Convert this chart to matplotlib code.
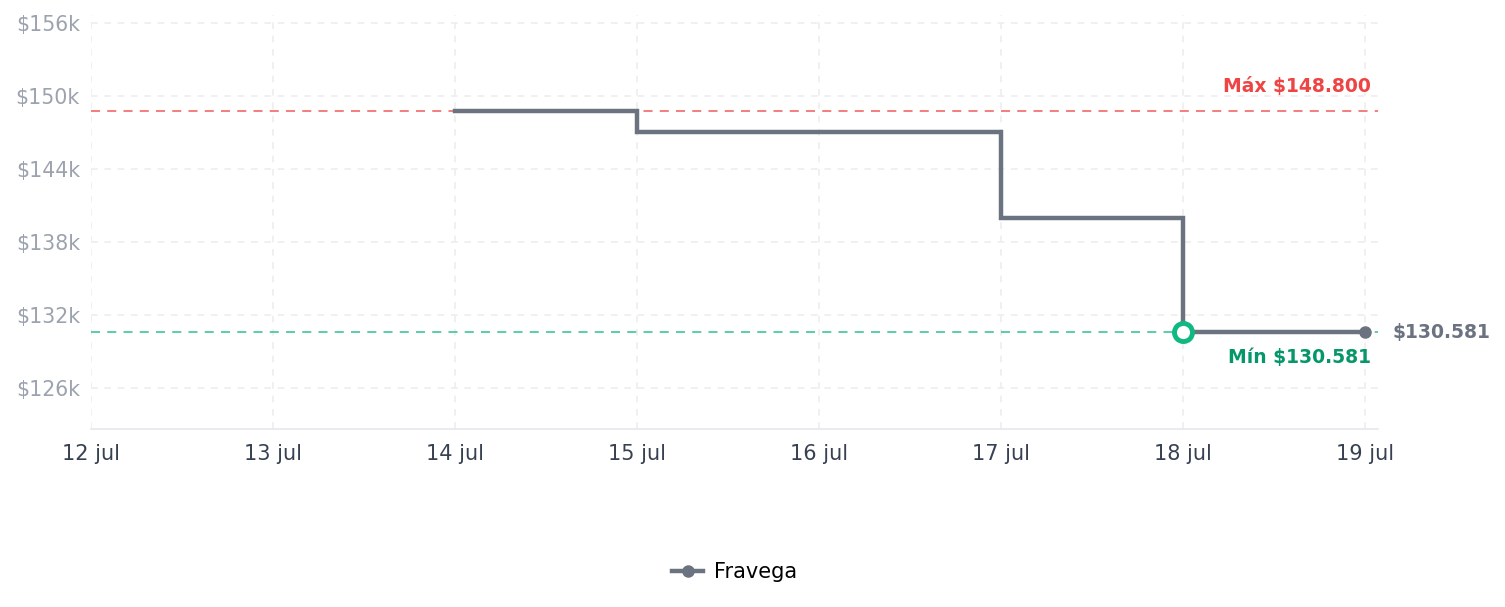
import matplotlib
matplotlib.use("Agg")
import matplotlib.pyplot as plt
from matplotlib.ticker import FuncFormatter

# day index from 12 jul
tick_labels = ["12 jul", "13 jul", "14 jul", "15 jul", "16 jul", "17 jul", "18 jul", "19 jul"]
days = [2, 3, 4, 5, 6, 7]
prices = [148800, 147100, 147100, 140000, 130581, 130581]
price_max = 148800
price_min = 130581
min_day = 6

line_col = "#6b7280"
red = "#ef4444"
green = "#10b981"

fig = plt.figure(figsize=(15.05, 6.07), dpi=100)
ax = fig.add_axes([0.0605, 0.2932, 0.855, 0.682])

ax.plot(days, prices, drawstyle="steps-post", color=line_col, lw=3.2,
        solid_joinstyle="miter", zorder=3, label="Fravega")
ax.plot(days[-1], prices[-1], "o", color=line_col, ms=8, zorder=4)
ax.plot(min_day, price_min, "o", mfc="white", mec=green, mew=3.5, ms=13, zorder=5)

ax.axhline(price_max, color=red, lw=1.3, ls=(0, (5, 4)), alpha=0.75, zorder=2)
ax.axhline(price_min, color=green, lw=1.3, ls=(0, (5, 4)), alpha=0.75, zorder=2)

ax.text(7.03, price_max + 1250, "Máx $148.800", color=red, fontsize=13.5,
        fontweight="bold", ha="right", va="bottom")
ax.text(7.03, price_min - 1300, "Mín $130.581", color="#059669", fontsize=13.5,
        fontweight="bold", ha="right", va="top")
ax.text(7.15, price_min, "$130.581", color=line_col, fontsize=13.5,
        fontweight="bold", ha="left", va="center", clip_on=False)

ax.set_xlim(0, 7.07)
ax.set_ylim(122640, 156690)
ax.set_xticks(range(len(tick_labels)))
ax.set_xticklabels(tick_labels)
ax.set_yticks([126000, 132000, 138000, 144000, 150000, 156000])
ax.yaxis.set_major_formatter(FuncFormatter(lambda v, p: f"${v/1000:.0f}k"))

ax.tick_params(axis="x", colors="#374151", labelsize=15, length=0, pad=11)
ax.tick_params(axis="y", colors="#9ca3af", labelsize=14.8, length=0, pad=8)

ax.grid(True, color="#eeeeee", lw=1.2, ls=(0, (4, 4)))
for s in ["top", "right", "left"]:
    ax.spines[s].set_visible(False)
ax.spines["bottom"].set_color("#e5e7eb")
ax.spines["bottom"].set_linewidth(1.2)

leg_handle, = ax.plot([], [], "-o", color=line_col, lw=3.2, ms=8)
fig.legend([leg_handle], ["Fravega"], loc="center", bbox_to_anchor=(0.488, 0.057),
           frameon=False, fontsize=15, handlelength=1.5, handletextpad=0.5)

fig.savefig("out.png", dpi=100)
